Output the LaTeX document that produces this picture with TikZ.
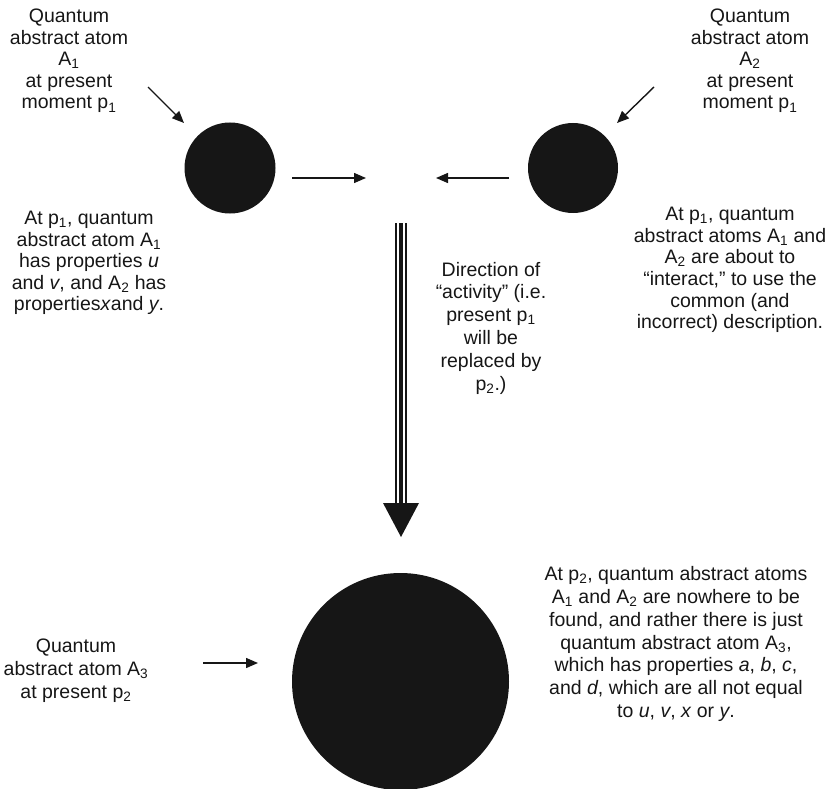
\documentclass[tikz,border=0pt]{standalone}
\usepackage{fontspec}
\setmainfont{Liberation Sans}
\usetikzlibrary{arrows.meta}
\newcommand{\sbs}[1]{\textsubscript{#1}}
\definecolor{ink}{HTML}{161616}
\tikzset{
  atom/.style={circle, fill=ink, draw=none, inner sep=0pt},
  lbl/.style={align=center, text=ink, inner sep=0pt},
  lblA/.style={lbl, font=\fontsize{19.5}{21.6}\selectfont},
  lblB/.style={lbl, font=\fontsize{19.5}{22.8}\selectfont},
  pointer/.style={draw=ink, line width=1.4pt, -{Triangle[length=12pt,width=10pt]}},
}
\begin{document}
\begin{tikzpicture}[x=1pt,y=-1pt]
\useasboundingbox (0,0) rectangle (833,789);

% atoms
\node[atom, minimum size=91pt] (a1) at (230,168) {};
\node[atom, minimum size=90pt] (a2) at (573,168) {};
\node[atom, minimum size=217pt] (a3) at (400.5,681.5) {};

% labels
\node[lblA] (t1) at (69,61) {Quantum\\abstract atom\\A\sbs{1}\\at present\\moment p\sbs{1}};
\node[lblA] (t2) at (750,61) {Quantum\\abstract atom\\A\sbs{2}\\at present\\moment p\sbs{1}};
\node[lblA] (t3) at (89,263) {At p\sbs{1}, quantum\\abstract atom A\sbs{1}\\has properties \textit{u}\\and \textit{v}, and A\sbs{2} has\\properties\textit{x}and \textit{y}.};
\node[lblA] (t4) at (730,270) {At p\sbs{1}, quantum\\abstract atoms A\sbs{1} and\\A\sbs{2} are about to\\“interact,” to use the\\common (and\\incorrect) description.};
\node[lblB] (t5) at (491,328) {Direction of\\“activity” (i.e.\\present p\sbs{1}\\will be\\replaced by\\p\sbs{2}.)};
\node[lblB] (t6) at (676,644) {At p\sbs{2}, quantum abstract atoms\\A\sbs{1} and A\sbs{2} are nowhere to be\\found, and rather there is just\\quantum abstract atom A\sbs{3},\\which has properties \textit{a}, \textit{b}, \textit{c},\\and \textit{d}, which are all not equal\\to \textit{u}, \textit{v}, \textit{x} or \textit{y}.};
\node[lblB] (t7) at (76,671) {Quantum\\abstract atom A\sbs{3}\\at present p\sbs{2}};

% connector end points
\coordinate (p1s) at (148,87);
\coordinate (p1e) at (184,123);
\coordinate (p2s) at (654,87);
\coordinate (p2e) at (617,123);
\coordinate (h1s) at (292,178);
\coordinate (h1e) at (366,178);
\coordinate (h2s) at (509,178);
\coordinate (h2e) at (436,178);
\coordinate (h3s) at (203,663);
\coordinate (h3e) at (258,663);
\coordinate (vs) at (401,223);
\coordinate (ve) at (401,503);
\coordinate (vtip) at (401,537);

\draw[pointer] (p1s) -- (p1e);
\draw[pointer] (p2s) -- (p2e);
\draw[pointer] (h1s) -- (h1e);
\draw[pointer] (h2s) -- (h2e);
\draw[pointer] (h3s) -- (h3e);

% triple-line direction arrow
\draw[ink, line width=2pt] ([xshift=-5pt]vs) -- ([xshift=-5pt]ve);
\draw[ink, line width=4pt] (vs) -- (ve);
\draw[ink, line width=2pt] ([xshift=5pt]vs) -- ([xshift=5pt]ve);
\fill[ink] ([xshift=-18pt]ve) -- ([xshift=18pt]ve) -- (vtip) -- cycle;
\end{tikzpicture}
\end{document}
